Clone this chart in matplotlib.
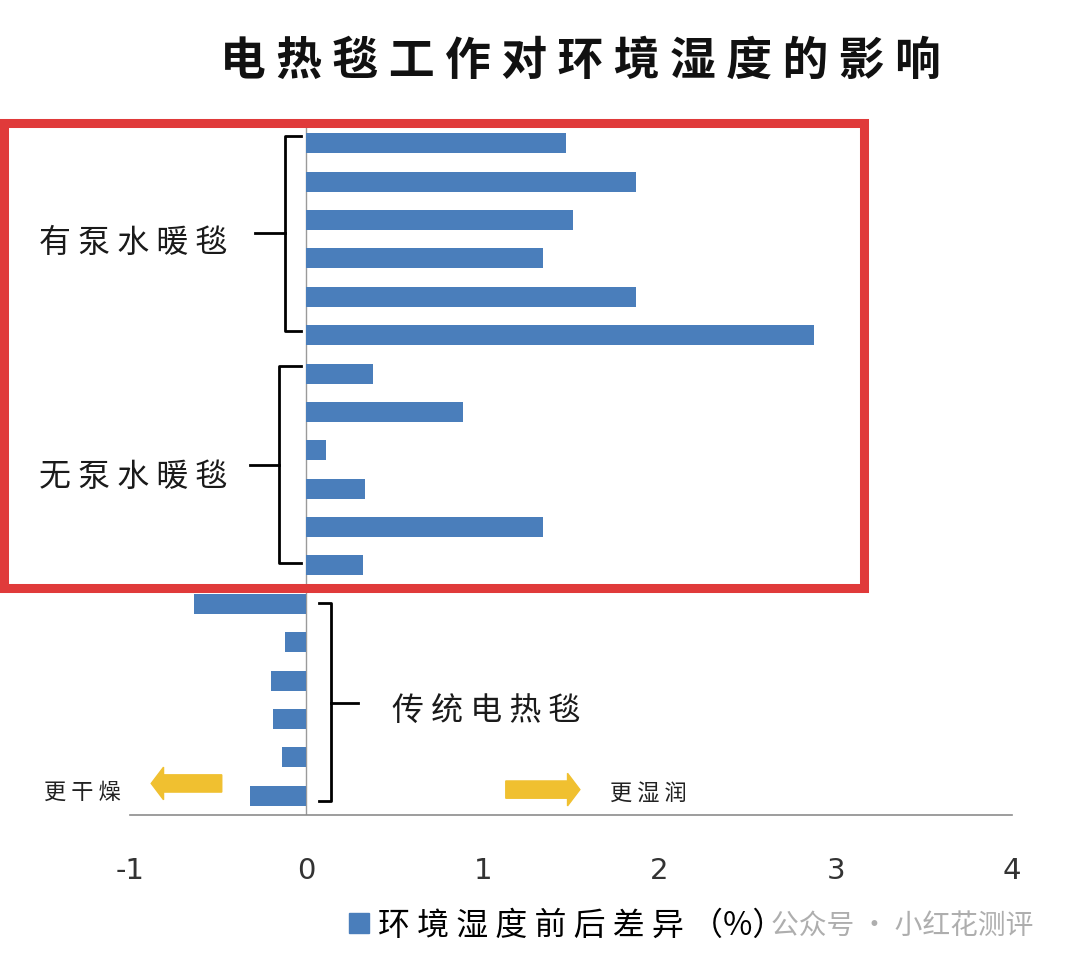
import matplotlib
matplotlib.use("Agg")
import matplotlib.pyplot as plt
from matplotlib.patches import Rectangle, FancyArrow, Patch

plt.rcParams['font.family'] = ['Noto Sans CJK SC', 'DejaVu Sans']

# humidity change before/after (%), top to bottom
pump_vals = [1.47, 1.87, 1.51, 1.34, 1.87, 2.88]
nopump_vals = [0.38, 0.89, 0.11, 0.33, 1.34, 0.32]
classic_vals = [-0.64, -0.12, -0.20, -0.19, -0.14, -0.32]
group_names = ["有泵水暖毯", "无泵水暖毯", "传统电热毯"]
xticks = [-1, 0, 1, 2, 3, 4]


def spaced(s):
    # the original uses wide letter spacing
    return " ".join(s)


values = pump_vals + nopump_vals + classic_vals
ypos = list(range(len(values)))

fig = plt.figure(figsize=(10.8, 9.69), dpi=100)
ax = fig.add_axes([0.1204, 0.159, 0.8167, 0.713])

bar_color = "#4a7ebb"
ax.barh(ypos, values, height=0.52, color=bar_color, zorder=3)
ax.set_ylim(len(values) - 0.5, -0.5)
ax.set_xlim(-1, 4)
ax.set_xticks(xticks)
ax.set_xticklabels([str(t) for t in xticks], fontsize=21, color="#333333",
                   family=['DejaVu Sans'])
ax.tick_params(axis="x", length=0, pad=30)
ax.set_yticks([])
for s in ["top", "right", "left"]:
    ax.spines[s].set_visible(False)
ax.spines["bottom"].set_color("#8c8c8c")
ax.spines["bottom"].set_linewidth(1.2)
ax.axvline(0, color="#9a9a9a", lw=1, zorder=2)

fig.text(0.537, 0.936, spaced("电热毯工作对环境湿度的影响"), fontsize=33,
         fontweight="bold", ha="center", va="center", color="#111111")

# brackets
def bracket(x, top, bot, tip, stub_x, mid):
    kw = dict(color="black", lw=2, clip_on=False, zorder=4)
    ax.plot([tip, x, x, tip], [top, top, bot, bot], **kw)
    ax.plot([stub_x, x], [mid, mid], **kw)

bracket(-0.124, -0.2, 4.9, -0.03, -0.29, 2.35)
bracket(-0.153, 5.8, 10.93, -0.03, -0.32, 8.39)
bracket(0.141, 11.97, 17.15, 0.073, 0.29, 14.58)

lab_kw = dict(fontsize=23, ha="center", va="center", color="#1a1a1a")
ax.text(-0.98, 2.6, spaced(group_names[0]), **lab_kw)
ax.text(-0.98, 8.7, spaced(group_names[1]), **lab_kw)
ax.text(1.02, 14.8, spaced(group_names[2]), **lab_kw)

# direction arrows
arr_kw = dict(width=0.45, head_width=0.85, head_length=0.07, color="#f0c030",
              length_includes_head=True, clip_on=False, zorder=4)
ax.add_patch(FancyArrow(-0.48, 16.68, -0.40, 0, **arr_kw))
ax.add_patch(FancyArrow(1.13, 16.84, 0.42, 0, **arr_kw))
ax.text(-1.27, 16.9, spaced("更干燥"), fontsize=16, ha="center", va="center", color="#222222")
ax.text(1.94, 16.94, spaced("更湿润"), fontsize=16, ha="center", va="center", color="#222222")

# highlight box
fig.add_artist(Rectangle((4 / 1080, 1 - 588 / 969), 860 / 1080, 465 / 969,
                         transform=fig.transFigure, fill=False,
                         edgecolor="#e03a3a", lw=6.5, zorder=10))

fig.text(0.835, 0.045, "公众号 · 小红花测评", fontsize=20, ha="center",
         va="center", color="#9a9a9a", alpha=0.8)

leg = fig.legend(handles=[Patch(facecolor=bar_color, edgecolor=bar_color)],
                 labels=[spaced("环境湿度前后差异") + " （%）"], loc="center",
                 bbox_to_anchor=(0.525, 0.045), frameon=False, fontsize=23,
                 handlelength=0.6, handleheight=0.6, handletextpad=0.3)

fig.savefig("out.png", dpi=100, facecolor="white")
